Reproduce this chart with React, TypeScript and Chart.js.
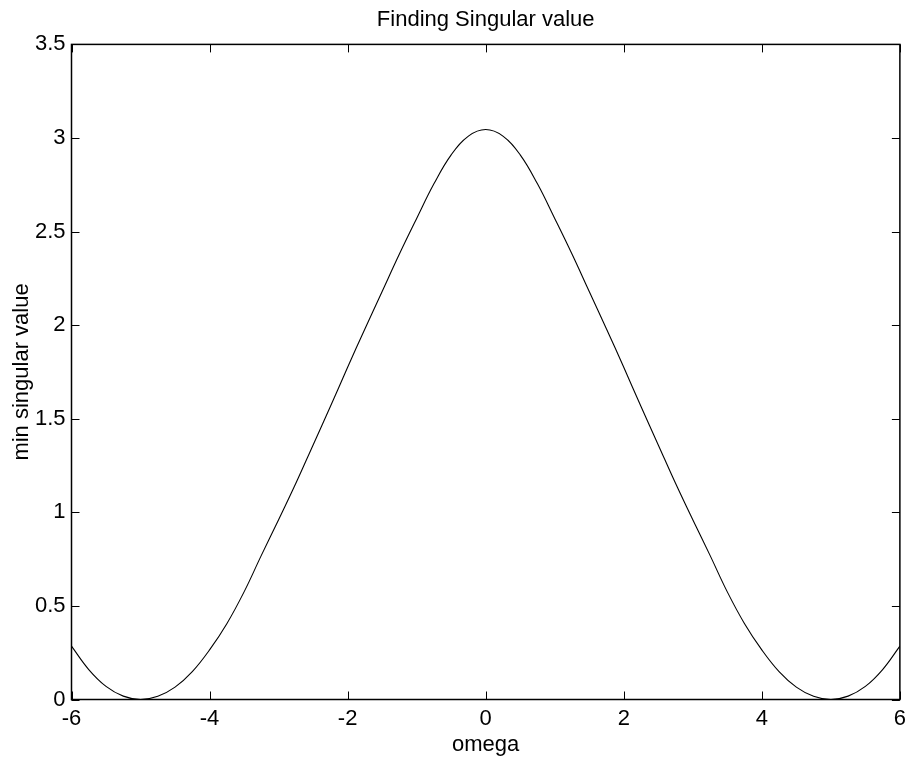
import React, { useEffect, useRef } from "react";
import { Chart, registerables } from "chart.js";

Chart.register(...registerables);

const omega = [
  -6, -5.75, -5.5, -5.25, -5, -4.75, -4.5, -4.25, -4, -3.75, -3.5, -3.25, -3,
  -2.75, -2.5, -2.25, -2, -1.75, -1.5, -1.25, -1, -0.75, -0.5, -0.25, 0,
  0.25, 0.5, 0.75, 1, 1.25, 1.5, 1.75, 2, 2.25, 2.5, 2.75, 3, 3.25, 3.5,
  3.75, 4, 4.25, 4.5, 4.75, 5, 5.25, 5.5, 5.75, 6,
];
const minSingular = [
  0.285, 0.16, 0.07, 0.018, 0, 0.017, 0.066, 0.149, 0.265, 0.405, 0.575, 0.77,
  0.96, 1.155, 1.36, 1.565, 1.775, 1.98, 2.18, 2.38, 2.57, 2.755, 2.91, 3.01,
  3.045, 3.01, 2.91, 2.755, 2.57, 2.38, 2.18, 1.98, 1.775, 1.565, 1.36, 1.155,
  0.96, 0.77, 0.575, 0.405, 0.265, 0.149, 0.066, 0.017, 0, 0.018, 0.07, 0.16,
  0.285,
];
const xTicks = [-6, -4, -2, 0, 2, 4, 6];
const yTicks = [0, 0.5, 1, 1.5, 2, 2.5, 3, 3.5];

const titleText = "Finding Singular value";
const xTitle = "omega";
const yTitle = "min singular value";

const FONT = "'Liberation Sans', Arial, Helvetica, sans-serif";
const FS = 22;

const framePlugin = {
  id: "matlabFrame",
  afterDraw(chart: any) {
    const { ctx, chartArea: a, scales } = chart;
    const x = scales.x;
    const y = scales.y;
    const tl = 8;
    ctx.save();
    ctx.strokeStyle = "#000";
    ctx.lineWidth = 1.5;
    ctx.strokeRect(a.left, a.top, a.right - a.left, a.bottom - a.top);
    ctx.lineWidth = 1;
    ctx.beginPath();
    xTicks.forEach((v) => {
      const px = Math.round(x.getPixelForValue(v)) + 0.5;
      ctx.moveTo(px, a.bottom);
      ctx.lineTo(px, a.bottom - tl);
      ctx.moveTo(px, a.top);
      ctx.lineTo(px, a.top + tl);
    });
    yTicks.forEach((v) => {
      const py = Math.round(y.getPixelForValue(v)) + 0.5;
      ctx.moveTo(a.left, py);
      ctx.lineTo(a.left + tl, py);
      ctx.moveTo(a.right, py);
      ctx.lineTo(a.right - tl, py);
    });
    ctx.stroke();
    ctx.restore();
  },
};

export default function App() {
  const ref = useRef<HTMLCanvasElement | null>(null);

  useEffect(() => {
    document.body.style.margin = "0";
    const canvas = ref.current;
    if (!canvas) return;
    const pts = omega.map((w, i) => ({ x: w, y: minSingular[i] }));
    const chart = new Chart(canvas, {
      type: "line",
      data: {
        datasets: [
          {
            data: pts,
            borderColor: "#000",
            borderWidth: 1.1,
            pointRadius: 0,
            fill: false,
            tension: 0.4,
          },
        ],
      },
      options: {
        responsive: false,
        animation: false,
        devicePixelRatio: 1,
        layout: { padding: { left: 0, right: 9, top: 0, bottom: 0 } },
        plugins: {
          legend: { display: false },
          tooltip: { enabled: false },
          title: {
            display: true,
            text: titleText,
            color: "#000",
            fullSize: false,
            font: { family: FONT, size: FS, weight: "normal" },
            padding: { top: 7, bottom: 11 },
          },
        },
        scales: {
          x: {
            type: "linear",
            min: -6,
            max: 6,
            grid: { display: false, drawTicks: false },
            border: { display: false },
            afterBuildTicks: (s: any) => {
              s.ticks = xTicks.map((v) => ({ value: v }));
            },
            afterFit: (s: any) => {
              s.height = 61.5;
            },
            ticks: {
              color: "#000",
              padding: 6,
              maxRotation: 0,
              font: { family: FONT, size: FS },
              callback: (v: any) => String(v),
            },
            title: {
              display: true,
              text: xTitle,
              color: "#000",
              font: { family: FONT, size: FS },
              padding: { top: 0, bottom: 3 },
            },
          },
          y: {
            type: "linear",
            min: 0,
            max: 3.5,
            grid: { display: false, drawTicks: false },
            border: { display: false },
            afterBuildTicks: (s: any) => {
              s.ticks = yTicks.map((v) => ({ value: v }));
            },
            afterFit: (s: any) => {
              s.width = 71.5;
            },
            ticks: {
              color: "#000",
              padding: 6,
              font: { family: FONT, size: FS },
              callback: (v: any) => String(v),
            },
            title: {
              display: true,
              text: yTitle,
              color: "#000",
              font: { family: FONT, size: FS },
              padding: { top: 9, bottom: 0 },
            },
          },
        },
      },
      plugins: [framePlugin],
    } as any);
    return () => chart.destroy();
  }, []);

  return (
    <div style={{ width: 912, height: 761, background: "#fff" }}>
      <canvas ref={ref} width={912} height={761} style={{ display: "block" }} />
    </div>
  );
}
